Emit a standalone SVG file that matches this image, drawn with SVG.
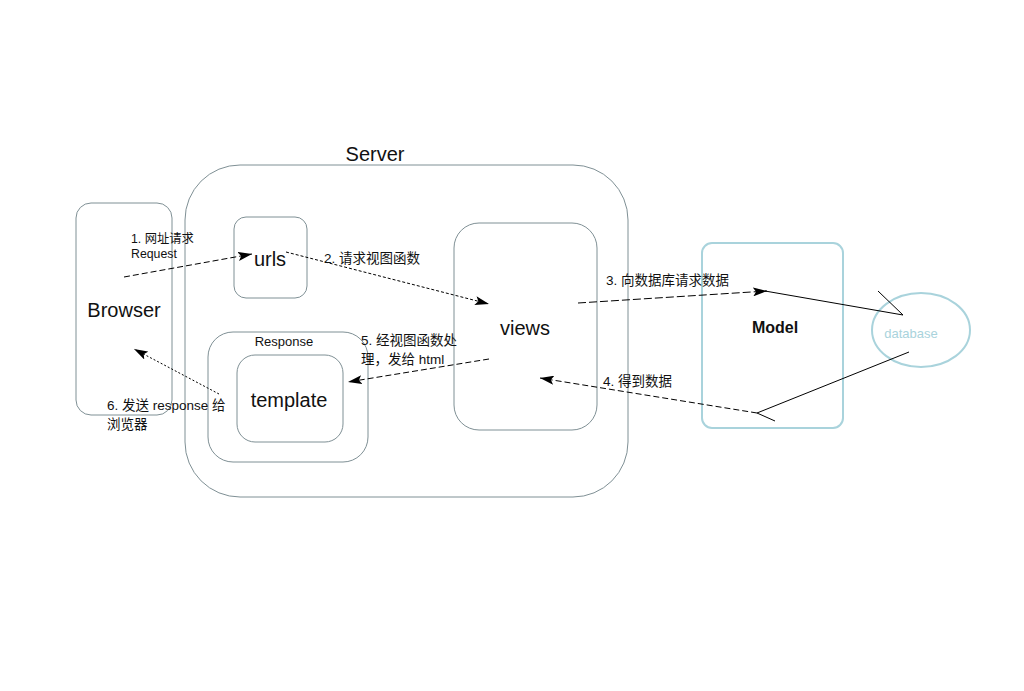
<svg xmlns="http://www.w3.org/2000/svg" width="1024" height="691" viewBox="0 0 1024 691">
<defs>
<marker id="ah" viewBox="0 0 14 9" refX="14" refY="4.5" markerWidth="14" markerHeight="9" markerUnits="userSpaceOnUse" orient="auto">
<path d="M0,0 L14,4.5 L0,9 L3,4.5 Z" fill="#000"/>
</marker>
<style>
text{font-family:"Liberation Sans","Noto Sans CJK SC",sans-serif;fill:#111}
.box{fill:none;stroke:#7f9095;stroke-width:1}
.lbox{fill:none;stroke:#a9d3dc;stroke-width:2}
.big{font-size:20px}
.lab{font-size:13.5px}
.sm{font-size:12.3px}
.arr{fill:none;stroke:#000;stroke-width:1}
</style>
</defs>
<rect width="1024" height="691" fill="#fff"/>
<g id="server">
<rect class="box" x="185" y="165" width="443" height="332" rx="55"/>
<text class="big" x="375" y="161" text-anchor="middle">Server</text>
</g>
<g id="browser">
<rect class="box" x="76" y="203" width="96" height="212" rx="15" stroke="#a0b4bc"/>
<text class="big" x="124" y="317" text-anchor="middle">Browser</text>
</g>
<g id="urls">
<rect class="box" x="234" y="217" width="73" height="81" rx="12"/>
<text class="big" x="270" y="266" text-anchor="middle">urls</text>
</g>
<g id="views">
<rect class="box" x="454" y="223" width="143" height="207" rx="25"/>
<text class="big" x="525" y="335" text-anchor="middle">views</text>
</g>
<g id="response">
<rect class="box" x="208" y="332" width="160" height="130" rx="25"/>
<text x="284" y="346" font-size="13" text-anchor="middle">Response</text>
</g>
<g id="template">
<rect class="box" x="237" y="355" width="106" height="87" rx="18"/>
<text class="big" x="289" y="407" text-anchor="middle">template</text>
</g>
<g id="model">
<rect class="lbox" x="702" y="243" width="141" height="185" rx="10"/>
<text x="775" y="333" font-size="16" font-weight="bold" text-anchor="middle">Model</text>
</g>
<g id="database">
<ellipse class="lbox" cx="921" cy="330" rx="49" ry="37"/>
<text x="911" y="338" font-size="13" text-anchor="middle" style="fill:#a9d3dc">database</text>
</g>
<g id="connectors">
<line class="arr" x1="124" y1="277" x2="252" y2="254" stroke-dasharray="6,3" marker-end="url(#ah)"/>
<line class="arr" x1="286" y1="252" x2="489" y2="304" stroke-dasharray="3,2" marker-end="url(#ah)"/>
<line class="arr" x1="578" y1="303" x2="767" y2="291" stroke-dasharray="8,3" marker-end="url(#ah)"/>
<polyline class="arr" points="765,291 903,315 878,291" stroke-width="2"/>
<polyline class="arr" points="909,352 757,413 775,421" stroke-width="2"/>
<line class="arr" x1="757" y1="413" x2="540" y2="378" stroke-dasharray="6,3" marker-end="url(#ah)"/>
<line class="arr" x1="489" y1="359" x2="348" y2="382" stroke-dasharray="6,3" marker-end="url(#ah)"/>
<line class="arr" x1="219" y1="394" x2="134" y2="349" stroke-dasharray="2,2" marker-end="url(#ah)"/>
</g>
<g id="labels">
<text class="sm" x="131" y="243">1. 网址请求</text>
<text class="sm" x="131" y="258">Request</text>
<text class="lab" x="324" y="263">2. 请求视图函数</text>
<text class="lab" x="606" y="285">3. 向数据库请求数据</text>
<text class="lab" x="603" y="386">4. 得到数据</text>
<text class="lab" x="361" y="345">5. 经视图函数处</text>
<text class="lab" x="361" y="364">理，发给 html</text>
<text class="lab" x="107" y="410">6. 发送 response 给</text>
<text class="lab" x="107" y="429">浏览器</text>
</g>
</svg>
